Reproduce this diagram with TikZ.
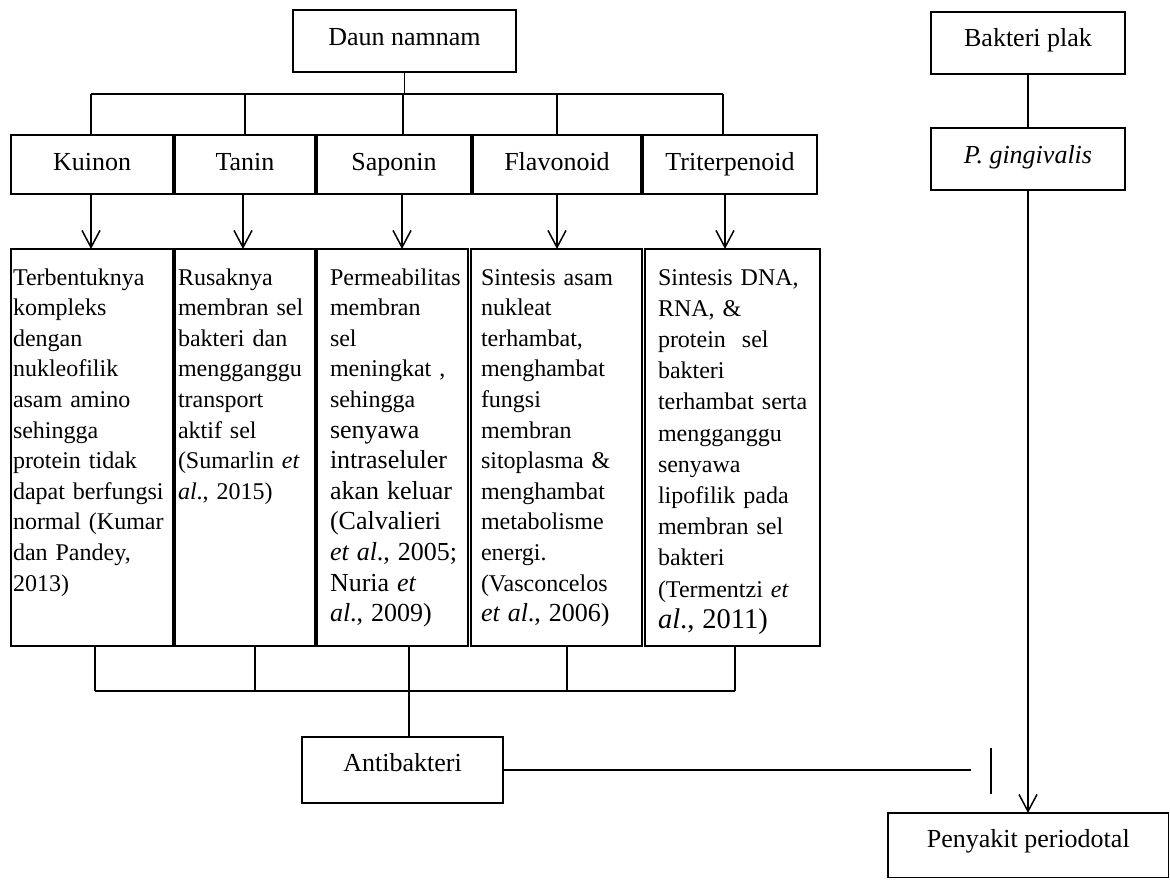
\documentclass[tikz,border=0pt]{standalone}
\usepackage{fontspec}
\setmainfont{Liberation Serif}
\usetikzlibrary{arrows.meta}
\newcommand\mysizeB{\fontsize{26}{30.6}\selectfont}
\newcommand\mysizeC{\fontsize{28.5}{31.2}\selectfont}
\begin{document}
\begin{tikzpicture}[x=1pt,y=-1pt,
  box/.style={draw, line width=1.8pt, inner sep=0pt, outer sep=0pt, font=\fontsize{26}{30}\selectfont, text height=16pt},
  lowbox/.style={draw, line width=2pt, inner sep=0pt, outer sep=0pt},
  conn/.style={line width=1.3pt},
  thinline/.style={line width=1.1pt},
  arr/.style={line width=1.5pt, -{Straight Barb[length=17pt,width=18pt,line width=1.5pt]}},
  body/.style={anchor=north west, inner sep=0pt, outer sep=0pt, align=left, text width=175pt, font=\fontsize{24}{30.6}\selectfont}]
\fill[white] (0,0) rectangle (1170,879);
\useasboundingbox (0,0) rectangle (1170,879);

% top node
\node[box, minimum width=223pt, minimum height=62pt, text depth=7.6pt] (daun) at (404.5,41) {Daun namnam};

% compound row
\node[box, minimum width=162pt, minimum height=59pt, text depth=5pt] (kui) at (92,164.5) {Kuinon};
\node[box, minimum width=140pt, minimum height=59pt, text depth=5pt] (tan) at (245,164.5) {Tanin};
\node[box, minimum width=154pt, minimum height=59pt, text depth=5pt] (sap) at (394,164.5) {Saponin};
\node[box, minimum width=168pt, minimum height=59pt, text depth=5pt] (fla) at (557,164.5) {Flavonoid};
\node[box, minimum width=174pt, minimum height=59pt, text depth=5pt] (tri) at (730,164.5) {Triterpenoid};

% right column
\node[box, minimum width=194pt, minimum height=62pt, text depth=8.6pt] (bak) at (1028,43) {Bakteri plak};
\node[box, minimum width=194pt, minimum height=62pt, text depth=7.4pt] (pg) at (1028,159) {\itshape P. gingivalis};
\node[box, minimum width=280.5pt, minimum height=64.5pt, text depth=11.6pt] (pen) at (1028.25,845.25) {Penyakit periodotal};

% lower boxes
\node[lowbox, minimum width=162pt, minimum height=397pt] (k2) at (92,447.5) {};
\node[lowbox, minimum width=140pt, minimum height=397pt] (t2) at (245,447.5) {};
\node[lowbox, minimum width=151pt, minimum height=397pt] (s2) at (392.5,447.5) {};
\node[lowbox, minimum width=171pt, minimum height=397pt] (f2) at (556.5,447.5) {};
\node[lowbox, minimum width=175pt, minimum height=397pt] (r2) at (732.5,447.5) {};

\node[body] (k2t) at (13,265) {\rule{0pt}{20pt}Terbentuknya\\kompleks\\dengan\\nukleofilik\\asam amino\\sehingga\\protein tidak\\dapat berfungsi\\normal (Kumar\\dan Pandey,\\2013)};
\node[body] (t2t) at (178,265) {\rule{0pt}{20pt}Rusaknya\\membran sel\\bakteri dan\\mengganggu\\transport\\aktif sel\\(Sumarlin \textit{et}\\\textit{al}., 2015)};
\node[body] (s2t) at (330,265) {\rule{0pt}{20pt}Permeabilitas\\membran\\sel\\meningkat ,\\sehingga\\{\mysizeB senyawa}\\{\mysizeB intraseluler}\\{\mysizeB akan keluar}\\{\mysizeB (Calvalieri}\\{\mysizeB \textit{et al}., 2005;}\\{\mysizeB Nuria \textit{et}}\\{\mysizeB \textit{al}., 2009)}};
\node[body] (f2t) at (481,265) {\rule{0pt}{20pt}Sintesis asam\\nukleat\\terhambat,\\menghambat\\fungsi\\membran\\sitoplasma \&\\menghambat\\metabolisme\\energi.\\(Vasconcelos\\{\mysizeB \textit{et al}., 2006)}};
\node[body, font=\fontsize{24}{31.2}\selectfont] (r2t) at (658,265) {\rule{0pt}{20pt}Sintesis DNA,\\RNA, \&\\protein\ \ sel\\bakteri\\terhambat serta\\mengganggu\\senyawa\\lipofilik pada\\membran sel\\bakteri\\(Termentzi \textit{et}\\{\mysizeC \textit{al}., 2011)}};

% antibakteri
\node[box, minimum width=201pt, minimum height=66pt, text depth=13pt] (anti) at (402.5,770) {Antibakteri};

% top bus
\coordinate (top) at (404.5,94);
\coordinate (d1) at (91,94);
\coordinate (d2) at (245,94);
\coordinate (d3) at (403,94);
\coordinate (d4) at (557,94);
\coordinate (d5) at (723,94);
\draw[conn] (daun.south) -- (top);
\draw[conn] (d1) -- (d5);
\draw[conn] (d1) -- (d1 |- kui.north);
\draw[conn] (d2) -- (d2 |- tan.north);
\draw[conn] (d3) -- (d3 |- sap.north);
\draw[conn] (d4) -- (d4 |- fla.north);
\draw[conn] (d5) -- (d5 |- tri.north);

% arrows down
\draw[arr] ([xshift=-1pt]kui.south) -- ([xshift=-1pt]kui.south |- k2.north);
\draw[arr] ([xshift=-2pt]tan.south) -- ([xshift=-2pt]tan.south |- t2.north);
\draw[arr] ([xshift=8pt]sap.south) -- ([xshift=8pt]sap.south |- s2.north);
\draw[arr] (fla.south) -- (fla.south |- f2.north);
\draw[arr] ([xshift=-5pt]tri.south) -- ([xshift=-5pt]tri.south |- r2.north);

% bottom bus
\coordinate (e1) at (95,691);
\coordinate (e2) at (255,691);
\coordinate (e3) at (409,691);
\coordinate (e4) at (567,691);
\coordinate (e5) at (735,691);
\draw[conn] (e1) -- (e5);
\draw[conn] (e1 |- k2.south) -- (e1);
\draw[conn] (e2 |- t2.south) -- (e2);
\draw[conn] (e3 |- s2.south) -- (e3 |- anti.north);
\draw[conn] (e4 |- f2.south) -- (e4);
\draw[conn] (e5 |- r2.south) -- (e5);

% right column connectors
\draw[conn] (bak.south) -- (pg.north);
\draw[arr, line width=1.9pt] (pg.south) -- (pg.south |- pen.north);

% inhibition
\coordinate (inh) at (971,768);
\coordinate (barT) at (991,748);
\coordinate (barB) at (991,794);
\draw[thinline] (anti.east) -- (anti.east -| inh);
\draw[thinline] (barT) -- (barB);
\end{tikzpicture}
\end{document}
